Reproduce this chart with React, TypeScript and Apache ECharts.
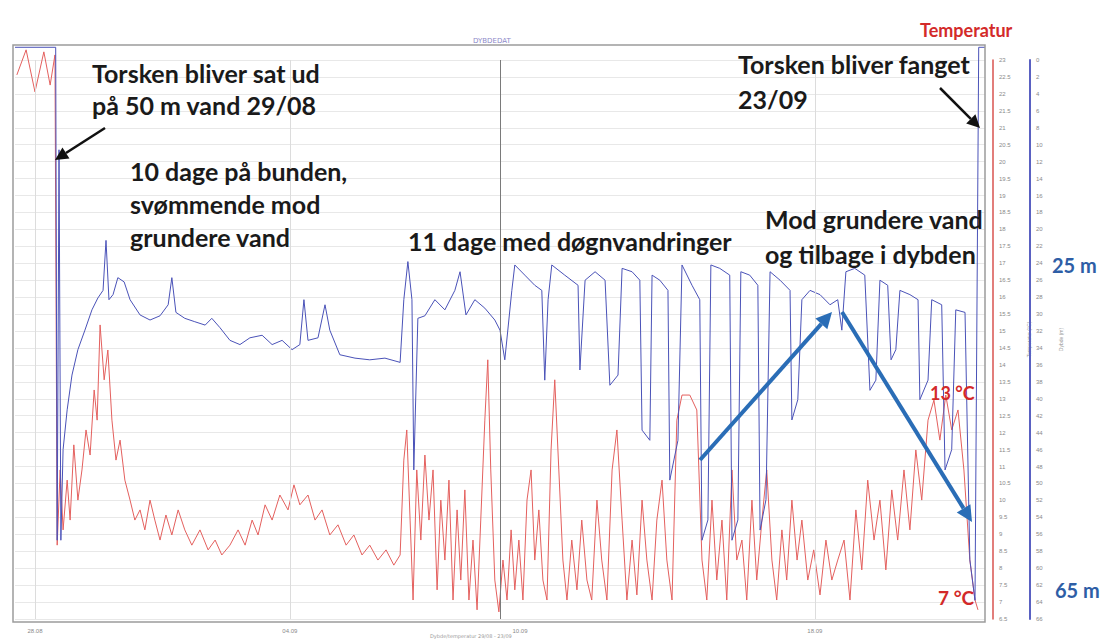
import React, { useEffect, useRef } from "react";
import * as echarts from "echarts";

// time in days since 28.08 00:00
const xTickValues = [0.54, 7.43, 13.65, 21.62];
const xTickLabels = ["28.08", "04.09", "10.09", "18.09"];
const cursorLines = [13.11];
const lightLines = [0.54, 7.43, 21.62];

// depth [day, m]
const depthSeries: [number, number][] = [
  [0, -1.5], [1.1, -1.5], [1.14, 56.7], [1.19, 10.6], [1.24, 56.7], [1.3, 46.0], [1.41, 41.3], [1.54, 37.2],
  [1.7, 34.2], [1.89, 31.9], [2.08, 29.5], [2.24, 28.1], [2.38, 27.2], [2.46, 21.3], [2.54, 28.3], [2.65, 27.7],
  [2.78, 25.7], [2.95, 26.2], [3.11, 28.3], [3.38, 30.1], [3.65, 30.7], [3.92, 30.2], [4.14, 28.9], [4.24, 25.7],
  [4.35, 29.8], [4.59, 30.5], [4.86, 30.9], [5.14, 31.3], [5.32, 30.5], [5.54, 31.6], [5.81, 33.1], [6.08, 33.6],
  [6.35, 32.8], [6.68, 32.5], [6.95, 33.6], [7.22, 33.1], [7.49, 34.2], [7.7, 33.6], [7.81, 28.3], [7.92, 33.1],
  [8.19, 32.8], [8.38, 28.9], [8.51, 31.9], [8.78, 34.8], [9.19, 35.2], [9.59, 35.4], [10.0, 35.2], [10.41, 35.7],
  [10.51, 28.3], [10.62, 23.8], [10.73, 28.3], [10.78, 48.4], [10.89, 30.5], [11.08, 30.2], [11.35, 28.3], [11.62, 29.5],
  [11.89, 27.2], [12.03, 25.0], [12.19, 30.1], [12.43, 28.3], [12.7, 29.3], [12.97, 30.7], [13.11, 31.9], [13.24, 35.4],
  [13.43, 27.2], [13.51, 24.2], [13.78, 25.4], [14.05, 26.6], [14.24, 27.2], [14.32, 37.8], [14.41, 28.3], [14.51, 24.2],
  [14.86, 25.4], [15.22, 26.6], [15.27, 36.6], [15.41, 26.0], [15.68, 25.0], [15.95, 26.0], [16.08, 38.4], [16.3, 37.2],
  [16.41, 24.6], [16.68, 25.0], [16.89, 26.0], [16.95, 43.7], [17.16, 44.9], [17.22, 25.4], [17.43, 26.0], [17.65, 27.2],
  [17.7, 49.6], [17.92, 44.9], [18.03, 24.2], [18.3, 26.6], [18.51, 28.3], [18.57, 56.7], [18.73, 54.3], [18.81, 24.2],
  [19.05, 24.6], [19.32, 25.4], [19.38, 56.7], [19.54, 54.3], [19.62, 25.0], [19.86, 25.4], [20.08, 26.6], [20.14, 55.5],
  [20.3, 51.9], [20.41, 25.0], [20.68, 26.0], [20.95, 27.2], [21.0, 42.5], [21.16, 40.1], [21.27, 28.3], [21.49, 27.2],
  [21.76, 27.7], [22.03, 28.9], [22.24, 28.3], [22.35, 31.9], [22.46, 25.0], [22.7, 24.6], [22.97, 25.4], [23.11, 39.0],
  [23.27, 37.8], [23.38, 26.0], [23.59, 26.6], [23.68, 35.4], [23.81, 34.2], [23.92, 27.2], [24.19, 27.7], [24.41, 28.3],
  [24.46, 40.1], [24.68, 37.8], [24.78, 28.3], [25.05, 28.9], [25.14, 48.4], [25.32, 46.0], [25.43, 29.5], [25.68, 29.8],
  [25.81, 59.0], [25.95, 63.8], [26.05, -1.5], [26.22, -1.5],
];

// temperature [day, °C]
const tempSeries: [number, number][] = [
  [0.05, 22.56], [0.3, 23.3], [0.54, 22.06], [0.78, 23.24], [0.95, 22.26], [1.08, 23.15], [1.14, 8.68], [1.22, 10.9],
  [1.3, 9.13], [1.41, 10.6], [1.49, 9.42], [1.59, 11.64], [1.7, 10.01], [1.81, 10.9], [1.92, 12.08], [2.03, 11.34],
  [2.14, 13.26], [2.22, 12.37], [2.3, 15.18], [2.41, 13.56], [2.51, 14.44], [2.62, 12.37], [2.73, 11.19], [2.84, 11.78],
  [2.97, 10.6], [3.11, 10.01], [3.24, 9.42], [3.38, 9.72], [3.51, 9.13], [3.65, 10.01], [3.78, 9.42], [3.92, 8.83],
  [4.08, 9.57], [4.24, 8.98], [4.41, 9.72], [4.59, 9.13], [4.78, 8.68], [5.0, 9.13], [5.22, 8.54], [5.41, 8.83],
  [5.59, 8.39], [5.81, 8.68], [6.03, 9.13], [6.22, 8.68], [6.41, 9.42], [6.57, 8.98], [6.76, 9.87], [6.95, 9.42],
  [7.16, 10.16], [7.38, 9.72], [7.54, 10.46], [7.7, 9.87], [7.92, 10.16], [8.11, 9.42], [8.3, 9.72], [8.51, 8.98],
  [8.73, 9.28], [8.95, 8.68], [9.16, 8.98], [9.38, 8.39], [9.59, 8.68], [9.81, 8.24], [10.03, 8.54], [10.24, 8.09],
  [10.41, 8.39], [10.51, 11.19], [10.59, 12.08], [10.68, 9.42], [10.76, 7.06], [10.86, 10.9], [10.97, 8.83], [11.08, 11.34],
  [11.19, 9.42], [11.3, 10.9], [11.41, 7.36], [11.51, 10.01], [11.62, 8.24], [11.73, 10.6], [11.84, 7.06], [11.95, 9.72],
  [12.05, 7.65], [12.16, 10.31], [12.27, 7.06], [12.38, 8.83], [12.49, 6.77], [12.59, 9.42], [12.7, 12.37], [12.78, 14.15],
  [12.86, 10.9], [12.97, 7.65], [13.08, 6.71], [13.19, 8.24], [13.3, 7.06], [13.41, 9.13], [13.51, 7.36], [13.62, 8.83],
  [13.73, 7.06], [13.84, 10.01], [13.95, 10.9], [14.05, 8.24], [14.16, 9.72], [14.27, 7.65], [14.38, 7.06], [14.49, 11.49],
  [14.59, 13.56], [14.7, 10.9], [14.81, 8.24], [14.92, 7.06], [15.05, 8.83], [15.19, 7.36], [15.32, 9.42], [15.46, 7.65],
  [15.59, 7.06], [15.73, 10.01], [15.86, 8.24], [16.0, 7.06], [16.14, 10.9], [16.27, 12.08], [16.41, 9.42], [16.54, 7.06],
  [16.68, 8.83], [16.81, 7.21], [16.95, 10.01], [17.08, 8.24], [17.22, 7.06], [17.35, 9.42], [17.49, 10.6], [17.62, 8.24],
  [17.76, 7.06], [17.89, 12.37], [18.03, 13.11], [18.24, 13.11], [18.43, 12.67], [18.57, 8.24], [18.7, 7.06], [18.84, 10.01],
  [18.97, 7.65], [19.11, 9.42], [19.24, 7.06], [19.38, 10.9], [19.51, 8.24], [19.65, 8.83], [19.78, 7.06], [19.92, 10.01],
  [20.05, 7.65], [20.19, 9.42], [20.32, 10.9], [20.46, 8.24], [20.59, 7.06], [20.73, 9.13], [20.86, 7.65], [21.0, 10.01],
  [21.14, 8.24], [21.27, 9.42], [21.43, 7.65], [21.59, 8.54], [21.76, 7.21], [21.92, 8.83], [22.08, 7.65], [22.24, 8.24],
  [22.41, 8.83], [22.57, 7.06], [22.73, 9.72], [22.89, 7.95], [23.05, 10.6], [23.22, 8.83], [23.38, 10.01], [23.54, 7.95],
  [23.7, 10.31], [23.86, 8.83], [24.03, 10.9], [24.19, 9.13], [24.35, 11.49], [24.51, 10.01], [24.68, 12.37], [24.84, 12.96],
  [25.0, 11.78], [25.16, 13.11], [25.32, 12.08], [25.49, 12.67], [25.65, 10.9], [25.81, 8.24], [25.95, 7.06], [26.03, 6.77],
];

function arrow(x1: number, y1: number, x2: number, y2: number, color: string, width: number, hl: number, hw: number) {
  const a = Math.atan2(y2 - y1, x2 - x1);
  const bx = x2 - hl * Math.cos(a);
  const by = y2 - hl * Math.sin(a);
  const px = -Math.sin(a) * hw;
  const py = Math.cos(a) * hw;
  return [
    { type: "line", silent: true, z: 50, shape: { x1, y1, x2: bx, y2: by }, style: { stroke: color, lineWidth: width } },
    {
      type: "polygon", silent: true, z: 50,
      shape: { points: [[x2, y2], [bx + px, by + py], [bx - px, by - py]] },
      style: { fill: color },
    },
  ];
}

function label(x: number, top: number, text: string, fill: string, size: number, lh: number) {
  return {
    type: "text", x, y: top, silent: true, z: 60,
    style: { text, fill, font: `bold ${size}px Lato`, lineHeight: lh, verticalAlign: "top", align: "left" },
  };
}

export default function App() {
  const ref = useRef<HTMLDivElement>(null);
  useEffect(() => {
    if (!ref.current) return;
    const chart = echarts.init(ref.current, null, { renderer: "svg" });
    const axisLabelStyle = { fontSize: 6, color: "#8a8a8a" };
    chart.setOption({
      animation: false,
      backgroundColor: "#ffffff",
      title: {
        text: "DYBDEDAT", left: 468, top: 32,
        textStyle: { fontSize: 7, color: "#8c88c8", fontWeight: "normal", fontFamily: "DejaVu Sans" },
      },
      grid: { left: 15, right: 126, top: 60, bottom: 22 },
      xAxis: {
        type: "value", min: 0, max: 26.22,
        axisLine: { show: false }, axisTick: { show: false }, splitLine: { show: false },
        axisLabel: {
          ...axisLabelStyle, margin: 9,
          customValues: xTickValues,
          formatter: (v: number) => {
            const i = xTickValues.findIndex((u) => Math.abs(u - v) < 1e-6);
            return i >= 0 ? xTickLabels[i] : "";
          },
        },
      },
      yAxis: [
        {
          type: "value", position: "right", offset: 8, min: 6.5, max: 23, interval: 0.5,
          name: "Temperatur (°C)", nameLocation: "middle", nameRotate: 90, nameGap: 33,
          nameTextStyle: { fontSize: 5, color: "#999" },
          axisLine: { show: true, onZero: false, lineStyle: { color: "#d9534f", width: 1.5 } },
          axisTick: { show: false },
          axisLabel: { ...axisLabelStyle, margin: 6, formatter: (v: number) => String(v) },
          splitLine: { show: true, lineStyle: { color: "#e8e8e8", width: 1 } },
        },
        {
          type: "value", position: "right", offset: 45, min: 0, max: 66, interval: 2, inverse: true,
          name: "Dybde (m)", nameLocation: "middle", nameRotate: 90, nameGap: 28,
          nameTextStyle: { fontSize: 5, color: "#999" },
          axisLine: { show: true, onZero: false, lineStyle: { color: "#5a61c2", width: 2 } },
          axisTick: { show: false },
          axisLabel: { ...axisLabelStyle, margin: 6 },
          splitLine: { show: false },
        },
      ],
      series: [
        {
          name: "Temperatur", type: "line", yAxisIndex: 0, data: tempSeries, showSymbol: false, clip: false,
          lineStyle: { color: "#e4605e", width: 1 }, itemStyle: { color: "#e4605e" },
        },
        {
          name: "Dybde", type: "line", yAxisIndex: 1, data: depthSeries, showSymbol: false, clip: false,
          lineStyle: { color: "#4a52b8", width: 1 }, itemStyle: { color: "#4a52b8" },
          markLine: {
            silent: true, symbol: "none", label: { show: false },
            data: [
              ...cursorLines.map((v) => ({ xAxis: v, lineStyle: { color: "#7a7a7a", width: 1, type: "solid" } })),
              ...lightLines.map((v) => ({ xAxis: v, lineStyle: { color: "#dcdcdc", width: 1, type: "solid" } })),
            ],
          },
        },
      ],
      graphic: [
        { type: "rect", silent: true, z: 40, shape: { x: 13, y: 45, width: 972, height: 577 }, style: { fill: "none", stroke: "#9c9c9c", lineWidth: 1.5 } },
        { type: "text", x: 430, y: 633, silent: true, style: { text: "Dybde/temperatur 29/08 - 23/09", fill: "#999", font: "5px DejaVu Sans" } },
        label(92, 57, "Torsken bliver sat ud\npå 50 m vand 29/08", "#1a1a1a", 25, 32),
        label(130, 154, "10 dage på bunden,\nsvømmende mod\ngrundere vand", "#1a1a1a", 25, 33),
        label(408, 224, "11 dage med døgnvandringer", "#1a1a1a", 25, 33),
        label(738, 46, "Torsken bliver fanget\n23/09", "#1a1a1a", 25, 35),
        label(765, 201, "Mod grundere vand\nog tilbage i dybden", "#1a1a1a", 25, 35),
        label(920, 18, "Temperatur", "#d32a2a", 18, 24),
        label(1052, 252, "25 m", "#2e5ea6", 20, 26),
        label(1055, 577, "65 m", "#2e5ea6", 20, 26),
        label(930, 381, "13 °C", "#d32a2a", 18, 24),
        label(938, 585, "7 °C", "#d32a2a", 19, 24),
        ...arrow(105, 128, 55, 160, "#111", 2.5, 13, 6.5),
        ...arrow(940, 88, 980, 128, "#111", 2.5, 13, 6.5),
        ...arrow(700, 460, 832, 312, "#2a6db6", 4, 16, 8),
        ...arrow(842, 312, 972, 522, "#2a6db6", 4, 16, 8),
      ],
    });
    return () => chart.dispose();
  }, []);
  return <div ref={ref} style={{ position: "fixed", left: 0, top: 0, width: 1111, height: 641 }} />;
}
